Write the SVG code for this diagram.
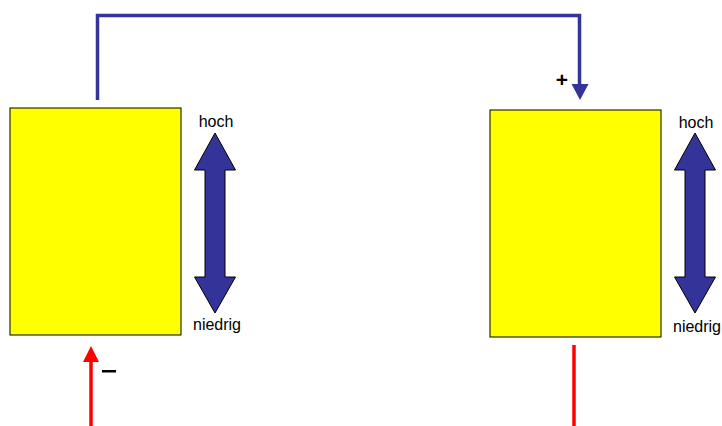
<svg xmlns="http://www.w3.org/2000/svg" width="722" height="426" viewBox="0 0 722 426">
  <defs>
    <style>
      .box { fill: #ffff00; stroke: #000000; stroke-width: 1; }
      .dbl { fill: #333399; stroke: #000000; stroke-width: 1; }
      .lbl { font-family: "Liberation Sans", Arial, sans-serif; font-size: 16px; fill: #000000; text-anchor: middle; }
      .sign { font-family: "Liberation Sans", Arial, sans-serif; font-size: 21px; font-weight: bold; fill: #000000; text-anchor: middle; }
      .wire-blue { fill: none; stroke: #333399; stroke-width: 3.5; }
      .wire-red { fill: none; stroke: #ff0000; stroke-width: 3.5; }
    </style>
  </defs>
  <rect width="722" height="426" fill="#ffffff"/>

  <!-- left block with level indicator -->
  <g id="left-block">
    <rect class="box" x="10" y="108" width="171" height="227"/>
    <path class="dbl" d="M215,133 L235.5,170 L225,170 L225,277 L235.5,277 L215,313 L194.5,277 L205,277 L205,170 L194.5,170 Z"/>
    <text class="lbl" x="216" y="127">hoch</text>
    <text class="lbl" x="217" y="330">niedrig</text>
  </g>

  <!-- right block with level indicator -->
  <g id="right-block">
    <rect class="box" x="490" y="110" width="171" height="227"/>
    <path class="dbl" d="M695,133 L715.5,170 L705,170 L705,277 L715.5,277 L695,313 L674.5,277 L685,277 L685,170 L674.5,170 Z"/>
    <text class="lbl" x="696" y="128">hoch</text>
    <text class="lbl" x="697" y="332">niedrig</text>
  </g>

  <!-- connectors -->
  <g id="connectors">
    <path class="wire-blue" d="M97.5,100 L97.5,15.5 L579.5,15.5 L579.5,86"/>
    <polygon points="571.5,84 588.5,84 580,100" fill="#333399"/>
    <path class="wire-red" d="M91,426 L91,360"/>
    <polygon points="83,362 99,362 91,346" fill="#ff0000"/>
    <path class="wire-red" d="M574,345 L574,426"/>
  </g>

  <!-- polarity marks -->
  <g id="polarity">
    <text class="sign" x="562" y="87">+</text>
    <rect x="102" y="370" width="14" height="2.5" fill="#000000"/>
  </g>
</svg>
